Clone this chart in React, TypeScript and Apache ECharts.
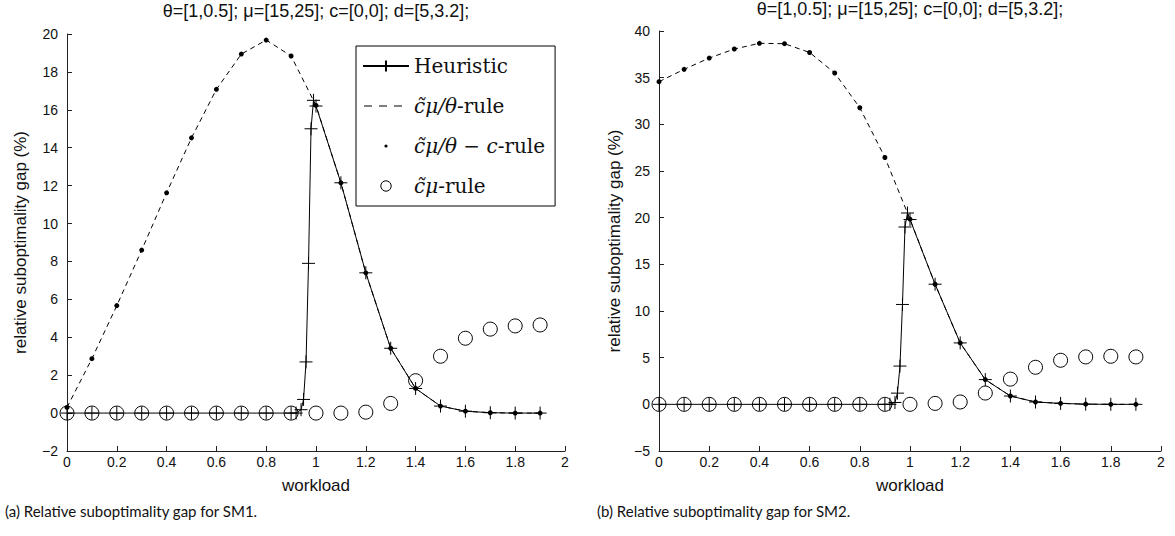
import React, { useEffect, useRef } from 'react';
import * as echarts from 'echarts';

// ---------- data ----------
const titleText = 'θ=[1,0.5]; μ=[15,25]; c=[0,0]; d=[5,3.2];';
const captionSM1 = '(a) Relative suboptimality gap for SM1.';
const captionSM2 = '(b) Relative suboptimality gap for SM2.';
const xName = 'workload';
const yName = 'relative suboptimality gap (%)';

// workload grid for the rules
const workload = [0, 0.1, 0.2, 0.3, 0.4, 0.5, 0.6, 0.7, 0.8, 0.9, 1.0, 1.1, 1.2, 1.3, 1.4, 1.5, 1.6, 1.7, 1.8, 1.9];
// workload grid for the heuristic (refined near 1)
const heurWorkload = [0, 0.1, 0.2, 0.3, 0.4, 0.5, 0.6, 0.7, 0.8, 0.9, 0.92, 0.94, 0.95, 0.96, 0.97, 0.98, 0.99, 1.0, 1.1, 1.2, 1.3, 1.4, 1.5, 1.6, 1.7, 1.8, 1.9];

// SM1
const heuristicSM1 = [0, 0, 0, 0, 0, 0, 0, 0, 0, 0, 0, 0.18, 0.72, 2.7, 7.9, 15.0, 16.5, 16.2, 12.15, 7.4, 3.42, 1.3, 0.37, 0.1, 0.02, 0, 0];
const thetaRuleSM1 = [0.3, 2.87, 5.67, 8.6, 11.62, 14.52, 17.08, 18.94, 19.68, 18.84, 16.23, 12.15, 7.4, 3.42, 1.3, 0.37, 0.1, 0.02, 0, 0];
const thetaCRuleSM1 = [0.3, 2.87, 5.67, 8.6, 11.62, 14.52, 17.08, 18.94, 19.68, 18.84, 16.23, 12.15, 7.4, 3.42, 1.3, 0.37, 0.1, 0.02, 0, 0];
const cmuRuleSM1 = [0, 0, 0, 0, 0, 0, 0, 0, 0, 0, 0, 0, 0.05, 0.51, 1.71, 3.0, 3.95, 4.43, 4.6, 4.65];

// SM2
const heuristicSM2 = [0, 0, 0, 0, 0, 0, 0, 0, 0, 0, 0, 0.2, 1.2, 4.1, 10.7, 19.0, 20.5, 19.8, 12.87, 6.58, 2.65, 0.89, 0.25, 0.1, 0.02, 0, 0];
const thetaRuleSM2 = [34.57, 35.89, 37.1, 38.07, 38.68, 38.64, 37.7, 35.5, 31.78, 26.45, 19.84, 12.87, 6.58, 2.65, 0.89, 0.25, 0.1, 0.02, 0, 0];
const thetaCRuleSM2 = [34.57, 35.89, 37.1, 38.07, 38.68, 38.64, 37.7, 35.5, 31.78, 26.45, 19.84, 12.87, 6.58, 2.65, 0.89, 0.25, 0.1, 0.02, 0, 0];
const cmuRuleSM2 = [0, 0, 0, 0, 0, 0, 0, 0, 0, 0, 0, 0.1, 0.25, 1.21, 2.7, 3.97, 4.72, 5.08, 5.15, 5.08];

// axis ranges
const xRange = [0, 2, 0.2];
const yRangeSM1 = [-2, 20, 2];
const yRangeSM2 = [-5, 40, 5];

// series names
const nHeur = 'Heuristic';
const nTheta = 'c̃μ/θ-rule';
const nThetaC = 'c̃μ/θ − c-rule';
const nCmu = 'c̃μ-rule';

const zip = (xs: number[], ys: number[]) => xs.map((x, i) => [x, ys[i]]);

const plusPath = 'path://M7,0L7,14M0,7L14,7';
const dashIcon = 'path://M0,0M46,14M1,6.5h8v1h-8zM16,6.5h8v1h-8zM31,6.5h8v1h-8z';
const dotIcon = 'path://M0,0M14,14M7,5.4A1.6,1.6,0,1,1,7,8.6A1.6,1.6,0,1,1,7,5.4Z';
const ringIcon = 'path://M0,0M14,14M7,1.8A5.2,5.2,0,1,1,7,12.2A5.2,5.2,0,1,1,7,1.8Z';

const SANS = 'Liberation Sans, Arial, Helvetica, sans-serif';
const SERIF = 'DejaVu Serif, serif';
const INK = '#111';

function makeXAxis(gridIndex: number) {
  return {
    type: 'value',
    gridIndex,
    min: xRange[0],
    max: xRange[1],
    interval: xRange[2],
    name: xName,
    nameLocation: 'middle',
    nameGap: 26,
    nameTextStyle: { fontFamily: SANS, fontSize: 17, color: INK },
    axisLine: { show: true, onZero: false, lineStyle: { color: '#222', width: 1 } },
    axisTick: { show: true, inside: true, length: 5, lineStyle: { color: '#222' } },
    axisLabel: { margin: 4, fontFamily: SANS, fontSize: 14, color: INK },
    splitLine: { show: false },
  };
}

function makeYAxis(gridIndex: number, r: number[], gap: number) {
  return {
    type: 'value',
    gridIndex,
    min: r[0],
    max: r[1],
    interval: r[2],
    name: yName,
    nameLocation: 'middle',
    nameGap: gap,
    nameTextStyle: { fontFamily: SANS, fontSize: 17, color: INK },
    axisLine: { show: true, onZero: false, lineStyle: { color: '#222', width: 1 } },
    axisTick: { show: true, inside: true, length: 5, lineStyle: { color: '#222' } },
    axisLabel: {
      margin: 9,
      fontFamily: SANS,
      fontSize: 14,
      color: INK,
      formatter: (v: number) => (v < 0 ? '−' + String(-v) : String(v)),
    },
    splitLine: { show: false },
  };
}

function makeSeries(idx: number, heur: number[], theta: number[], thetaC: number[], cmu: number[]) {
  return [
    {
      name: nTheta,
      type: 'line',
      xAxisIndex: idx,
      yAxisIndex: idx,
      data: zip(workload, theta),
      symbol: 'none',
      color: '#000',
      lineStyle: { color: '#000', width: 1, type: [5, 4] },
      itemStyle: { color: '#000' },
      z: 2,
    },
    {
      name: nHeur,
      type: 'line',
      xAxisIndex: idx,
      yAxisIndex: idx,
      data: zip(heurWorkload, heur),
      symbol: plusPath,
      symbolSize: 13,
      showAllSymbol: true,
      color: '#000',
      lineStyle: { color: '#000', width: 1 },
      itemStyle: { color: '#000', borderColor: '#000', borderWidth: 1 },
      z: 3,
    },
    {
      name: nCmu,
      type: 'scatter',
      xAxisIndex: idx,
      yAxisIndex: idx,
      data: zip(workload, cmu),
      symbol: 'circle',
      symbolSize: 14,
      itemStyle: { color: 'rgba(255,255,255,0)', borderColor: '#000', borderWidth: 1, opacity: 1 },
      z: 4,
    },
    {
      name: nThetaC,
      type: 'scatter',
      xAxisIndex: idx,
      yAxisIndex: idx,
      data: zip(workload, thetaC),
      symbol: 'circle',
      symbolSize: 5,
      itemStyle: { color: '#000', opacity: 1 },
      z: 5,
    },
  ];
}

const legendLabels: Record<string, string> = {
  [nHeur]: '{r|Heuristic}',
  [nTheta]: '{i|c̃μ/θ}{r|-rule}',
  [nThetaC]: '{i|c̃μ/θ}{r| − }{i|c}{r|-rule}',
  [nCmu]: '{i|c̃μ}{r|-rule}',
};

export default function App() {
  const ref = useRef<HTMLDivElement>(null);

  useEffect(() => {
    if (!ref.current) return;
    const chart = echarts.init(ref.current, undefined, { renderer: 'svg' });
    const titleStyle = { fontFamily: SANS, fontSize: 18, fontWeight: 'normal', color: INK };
    const option: any = {
      animation: false,
      backgroundColor: '#fff',
      title: [
        { text: titleText, left: 316, top: 2, textAlign: 'center', padding: 0, textStyle: titleStyle },
        { text: titleText, left: 910, top: 0, textAlign: 'center', padding: 0, textStyle: titleStyle },
      ],
      grid: [
        { left: 67, top: 34, width: 498, height: 417 },
        { left: 659, top: 31, width: 502, height: 420 },
      ],
      xAxis: [makeXAxis(0), makeXAxis(1)],
      yAxis: [makeYAxis(0, yRangeSM1, 38), makeYAxis(1, yRangeSM2, 36)],
      legend: {
        show: true,
        orient: 'vertical',
        left: 356,
        top: 46,
        padding: [10, 10, 10, 6],
        itemGap: 20,
        itemWidth: 46,
        itemHeight: 14,
        borderColor: '#000',
        borderWidth: 1,
        backgroundColor: '#fff',
        selectedMode: false,
        data: [
          { name: nHeur },
          { name: nTheta, icon: dashIcon },
          { name: nThetaC, icon: dotIcon },
          {
            name: nCmu,
            icon: ringIcon,
            itemStyle: { color: 'rgba(255,255,255,0)', borderColor: '#000', borderWidth: 1 },
          },
        ],
        formatter: (name: string) => legendLabels[name] || name,
        textStyle: {
          fontFamily: SERIF,
          fontSize: 20,
          lineHeight: 20,
          color: INK,
          rich: {
            r: { fontFamily: SERIF, fontSize: 20, color: INK },
            i: { fontFamily: SERIF, fontSize: 20, fontStyle: 'italic', color: INK },
          },
        },
      },
      graphic: [
        {
          type: 'text',
          left: 5,
          top: 503,
          style: { text: captionSM1, fontFamily: 'Lato, sans-serif', fontSize: 15, fill: INK },
        },
        {
          type: 'text',
          left: 597,
          top: 503,
          style: { text: captionSM2, fontFamily: 'Lato, sans-serif', fontSize: 15, fill: INK },
        },
      ],
      series: [
        ...makeSeries(0, heuristicSM1, thetaRuleSM1, thetaCRuleSM1, cmuRuleSM1),
        ...makeSeries(1, heuristicSM2, thetaRuleSM2, thetaCRuleSM2, cmuRuleSM2),
      ],
    };
    chart.setOption(option);
    return () => chart.dispose();
  }, []);

  return (
    <div
      ref={ref}
      style={{ position: 'absolute', left: 0, top: 0, width: 1175, height: 536, background: '#fff' }}
    />
  );
}
